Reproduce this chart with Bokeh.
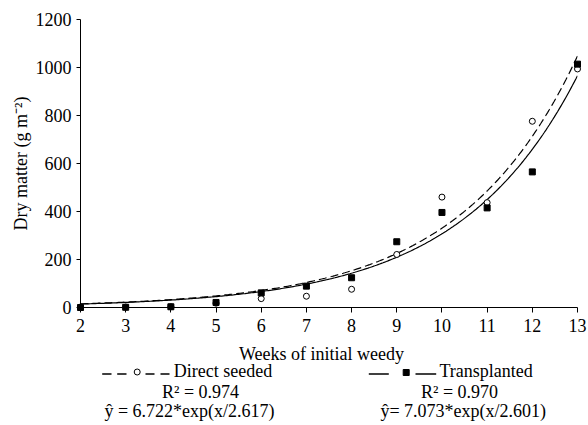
import numpy as np
from bokeh.plotting import figure
from bokeh.models import Range1d, FixedTicker
from bokeh.layouts import column
from bokeh.embed import file_html
from bokeh.resources import INLINE
from bokeh.core.properties import value

# ---- data ----
weeks = [2, 3, 4, 5, 6, 7, 8, 9, 10, 11, 12, 13]
direct_seeded = [2, 2, 3, 18, 37, 47, 76, 221, 460, 437, 776, 994]
transplanted = [0, 1, 3, 21, 61, 89, 124, 274, 396, 415, 565, 1014]
x_ticks = [2, 3, 4, 5, 6, 7, 8, 9, 10, 11, 12, 13]
y_ticks = [0, 200, 400, 600, 800, 1000, 1200]
# fitted exponential curves (a * exp(x / b)) as drawn
dashed_fit = [7.073, 2.601]
solid_fit = [6.722, 2.617]
x_title = "Weeks of initial weedy"
y_title = "Dry matter (g m\u207b\u00b2)"
left_legend = ["Direct seeded", "R\u00b2 = 0.974", "\u0177 = 6.722*exp(x/2.617)"]
right_legend = ["Transplanted", "R\u00b2 = 0.970", "\u0177= 7.073*exp(x/2.601)"]

FONT = "Liberation Serif"
FS = "18px"
W = 588
BL, BR = 80, 11
MAIN_H = 342

p = figure(width=W, height=MAIN_H, x_range=Range1d(x_ticks[0], x_ticks[-1]),
           y_range=Range1d(y_ticks[0], y_ticks[-1]),
           toolbar_location=None, output_backend="svg",
           min_border_left=BL, min_border_right=BR, min_border_top=19, min_border_bottom=35)
p.outline_line_color = None
p.grid.visible = False

xs = np.linspace(weeks[0], weeks[-1], 300)
p.line(xs, dashed_fit[0] * np.exp(xs / dashed_fit[1]), line_color="black", line_width=1.2, line_dash="8 4")
p.line(xs, solid_fit[0] * np.exp(xs / solid_fit[1]), line_color="black", line_width=1.2)
p.scatter(weeks, direct_seeded, marker="circle", size=6, fill_color="white", line_color="black",
          line_width=1, level="overlay")
p.scatter(weeks, transplanted, marker="square", size=6, fill_color="black", line_color="black",
          level="overlay")

for ax in (p.xaxis, p.yaxis):
    ax.axis_line_color = "black"
    ax.axis_line_width = 1
    ax.major_tick_line_color = "black"
    ax.minor_tick_line_color = None
    ax.major_tick_in = 0
    ax.major_label_text_font = FONT
    ax.major_label_text_font_size = FS
    ax.major_label_text_color = "black"
p.xaxis.ticker = FixedTicker(ticks=x_ticks)
p.yaxis.ticker = FixedTicker(ticks=y_ticks)
p.xaxis.major_tick_out = 5
p.yaxis.major_tick_out = 4
p.xaxis.major_label_standoff = 6
p.yaxis.major_label_standoff = 5
p.yaxis.axis_label = y_title
p.yaxis.axis_label_text_font = FONT
p.yaxis.axis_label_text_font_size = FS
p.yaxis.axis_label_text_font_style = "normal"
p.yaxis.axis_label_text_color = "black"
p.yaxis.axis_label_standoff = 2

# ---- legend / x title panel (coordinates in page pixels) ----
LG_H = 83
lg = figure(width=W, height=LG_H, x_range=Range1d(BL, W - BR), y_range=Range1d(MAIN_H + LG_H, MAIN_H),
            toolbar_location=None, output_backend="svg",
            min_border_left=BL, min_border_right=BR, min_border_top=0, min_border_bottom=0,
            x_axis_type=None, y_axis_type=None)
lg.outline_line_color = None
lg.grid.visible = False

tkw = dict(text_font=value(FONT), text_font_size=value(FS), text_color="black", text_baseline="alphabetic")
lg.text(x=[321], y=[353.5], text=[x_title], text_align="center", **tkw)
lg.text(x=[173.3], y=[370.5], text=[left_legend[0]], text_align="left", **tkw)
lg.text(x=[200, 189], y=[391, 410], text=left_legend[1:], text_align="center", **tkw)
lg.text(x=[439], y=[370.5], text=[right_legend[0]], text_align="left", **tkw)
lg.text(x=[459, 462.7], y=[391, 410], text=right_legend[1:], text_align="center", **tkw)

lg.segment(x0=[101.7, 116.7, 145, 160], y0=[373.5] * 4, x1=[111, 126, 154, 169], y1=[373.5] * 4,
           line_color="black", line_width=1.4)
lg.scatter([136.7], [371.5], marker="circle", size=6, fill_color="white", line_color="black", line_width=1)
lg.segment(x0=[368.3, 415], y0=[373.5] * 2, x1=[388.3, 435.7], y1=[373.5] * 2, line_color="black", line_width=1.3)
lg.scatter([405.7], [372], marker="square", size=6, fill_color="black", line_color="black")

layout = column(p, lg)
open("out.html", "w").write(file_html(layout, INLINE))
